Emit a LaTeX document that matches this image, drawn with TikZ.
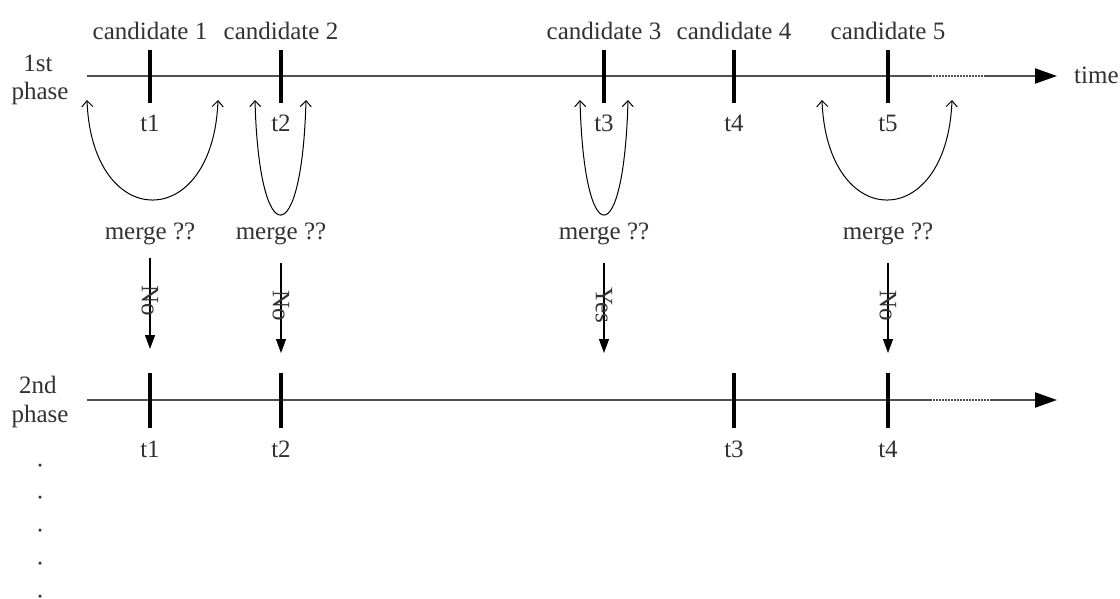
\documentclass[tikz,border=0pt]{standalone}
\usepackage{fontspec}
\setmainfont{Liberation Serif}
\usetikzlibrary{arrows.meta}
\definecolor{txtgray}{RGB}{50,50,50}
\definecolor{axisgray}{RGB}{80,80,80}
\begin{document}
\begin{tikzpicture}[x=1pt,y=-1pt,
  lbl/.style={font=\fontsize{25}{29}\selectfont, text=txtgray, inner sep=0pt, anchor=base},
  axisline/.style={draw=axisgray, line width=2pt},
  axisdots/.style={draw=axisgray, line width=1.6pt, dash pattern=on 1.5pt off 1.5pt},
  axisarrow/.style={draw=axisgray, line width=2pt, -{Triangle[width=15pt,length=22pt,color=black]}},
  tickmark/.style={draw=black, line width=4pt},
  loopline/.style={draw=black, line width=1pt, {Straight Barb[length=6pt,width=11pt]}-{Straight Barb[length=6pt,width=11pt]}},
  decision/.style={draw=black, line width=1.2pt, -{Triangle[width=10pt,length=14pt]}},
  dotmark/.style={fill=txtgray, circle, inner sep=0pt, minimum size=3.5pt}
]
\useasboundingbox (0,0) rectangle (1120,599);
\fill[white] (0,0) rectangle (1120,599);

% ---------- 1st phase ----------
\coordinate (A1s) at (87,76);
\coordinate (A1d) at (930,76);
\coordinate (A1e) at (985,76);
\coordinate (A1t) at (1057,76);
\draw[axisline] (A1s) -- (A1d);
\draw[axisdots] (A1d) -- (A1e);
\draw[axisarrow] (A1e) -- (A1t);
\node[lbl, anchor=base west] (time) at (1074,84) {time};

\node[lbl] (ph1a) at (38,72) {1st};
\node[lbl] (ph1b) at (40,100) {phase};

\foreach \x/\i in {150/1,281/2,604/3,734/4,888/5}{
  \coordinate (T\i a) at (\x,50);
  \coordinate (T\i b) at (\x,103);
  \draw[tickmark] (T\i a) -- (T\i b);
  \node[lbl] (c\i) at (\x,40) {candidate \i};
  \node[lbl] (t\i) at (\x,132) {t\i};
}

% loops
\coordinate (L1a) at (87,100);  \coordinate (L1b) at (218,100);
\coordinate (L2a) at (255,100); \coordinate (L2b) at (306,100);
\coordinate (L3a) at (580,100); \coordinate (L3b) at (628,100);
\coordinate (L4a) at (822,100); \coordinate (L4b) at (952,100);
\draw[loopline] (L1a) .. controls (92,233) and (213,233) .. (L1b);
\draw[loopline] (L2a) .. controls (259,253) and (302,253) .. (L2b);
\draw[loopline] (L3a) .. controls (584,253) and (624,253) .. (L3b);
\draw[loopline] (L4a) .. controls (827,233) and (947,233) .. (L4b);

% merge decisions
\foreach \x/\i/\ys/\ye/\ans in {150/1/258/349/No,281/2/263/353/No,604/3/263/353/Yes,888/4/263/353/No}{
  \node[lbl] (m\i) at (\x,240) {merge ??};
  \coordinate (D\i s) at (\x,\ys);
  \coordinate (D\i e) at (\x,\ye);
  \draw[decision] (D\i s) -- node[font=\fontsize{25}{29}\selectfont, text=txtgray, inner sep=0pt, rotate=-90, pos=0.47] (ans\i) {\ans} (D\i e);
}

% ---------- 2nd phase ----------
\coordinate (B1s) at (87,400);
\coordinate (B1d) at (930,400);
\coordinate (B1e) at (990,400);
\coordinate (B1t) at (1057,400);
\draw[axisline] (B1s) -- (B1d);
\draw[axisdots] (B1d) -- (B1e);
\draw[axisarrow] (B1e) -- (B1t);

\node[lbl] (ph2a) at (38,393) {2nd};
\node[lbl] (ph2b) at (40,422) {phase};

\foreach \x/\i in {150/1,281/2,734/3,888/4}{
  \coordinate (U\i a) at (\x,373);
  \coordinate (U\i b) at (\x,428);
  \draw[tickmark] (U\i a) -- (U\i b);
  \node[lbl] (u\i) at (\x,457) {t\i};
}

% continuation dots
\foreach \y/\k in {465/1,497/2,530/3,563/4,596/5}{
  \node[dotmark] (dot\k) at (40,\y) {};
}
\end{tikzpicture}
\end{document}
